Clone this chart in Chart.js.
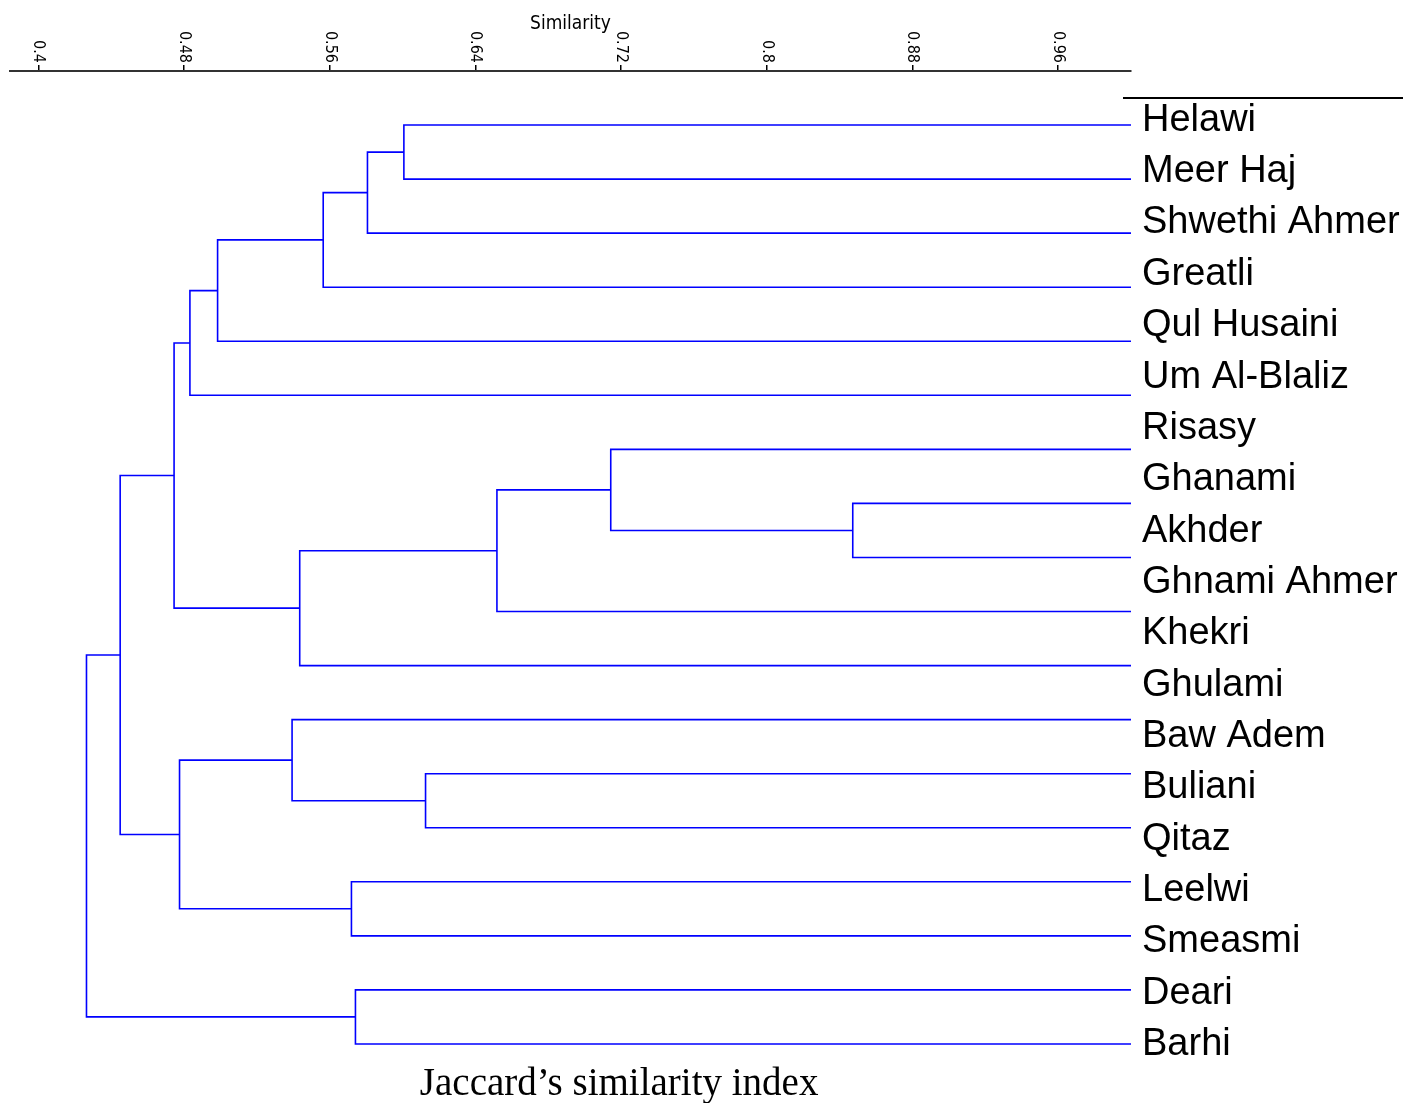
<!DOCTYPE html>
<html>
<head>
<meta charset="utf-8">
<script src="https://cdn.jsdelivr.net/npm/chart.js@4.4.1/dist/chart.umd.min.js"></script>
<style>
  html, body { margin: 0; padding: 0; background: #fff; }
  #wrap { width: 1406px; height: 1103px; position: relative; }
</style>
</head>
<body>
<div id="wrap"><canvas id="chart"></canvas></div>
<script>
// names as printed down the right side
const cultivars = ['Helawi', 'Meer Haj', 'Shwethi Ahmer', 'Greatli', 'Qul Husaini', 'Um Al-Blaliz', 'Risasy',
    'Ghanami', 'Akhder', 'Ghnami Ahmer', 'Khekri', 'Ghulami', 'Baw Adem', 'Buliani', 'Qitaz', 'Leelwi',
    'Smeasmi', 'Deari', 'Barhi']

// similarity axis
const tickValues = [0.4, 0.48, 0.56, 0.64, 0.72, 0.8, 0.88, 0.96]
const tickLabels = ['0.4', '0.48', '0.56', '0.64', '0.72', '0.8', '0.88', '0.96']

// linkage: leaves are 0..17, the cluster made by join k is 18 + k
const leafCount = 18
const joinA = [0, 18, 19, 20, 21, 7, 6, 24, 25, 22, 12, 11, 14, 29, 27, 16, 32]
const joinB = [1, 2, 3, 4, 5, 8, 23, 9, 10, 26, 13, 28, 15, 30, 31, 17, 33]
const joinSim = [0.6007, 0.5807, 0.5564, 0.4984, 0.4832, 0.8472, 0.7143, 0.6518, 0.5435,
    0.4745, 0.6126, 0.5393, 0.5719, 0.4775, 0.4449, 0.5741, 0.4264]

const nodeSim = []
const nodeRow = []
for (let i = 0; i < leafCount; i++) {
    nodeSim.push(1)
    nodeRow.push(i)
}
const links = joinA.map((a, k) => {
    const b = joinB[k]
    const s = joinSim[k]
    nodeSim.push(s)
    nodeRow.push((nodeRow[a] + nodeRow[b]) / 2)
    return [
        { x: nodeSim[a], y: nodeRow[a] },
        { x: s, y: nodeRow[a] },
        { x: s, y: nodeRow[b] },
        { x: nodeSim[b], y: nodeRow[b] }
    ]
})

const narrow = '"DejaVu Sans Condensed", "Liberation Sans Narrow", sans-serif'

const extras = {
    id: 'extras',
    afterDraw(chart) {
        const { ctx, chartArea } = chart
        const x = chart.scales.x
        const y = chart.scales.y
        ctx.save()
        // tick labels read downwards and end at the tick mark
        ctx.font = '16px ' + narrow
        ctx.fillStyle = '#000'
        ctx.textAlign = 'right'
        ctx.textBaseline = 'middle'
        tickValues.forEach((v, i) => {
            ctx.save()
            ctx.translate(x.getPixelForValue(v), chartArea.top - 8)
            ctx.rotate(Math.PI / 2)
            ctx.fillText(tickLabels[i], 0, 0)
            ctx.restore()
        })
        // rule above the first name
        const ry = Math.round(y.getPixelForValue(-0.5))
        ctx.strokeStyle = '#000'
        ctx.lineWidth = 2
        ctx.beginPath()
        ctx.moveTo(chartArea.right - 8, ry)
        ctx.lineTo(chart.width - 3, ry)
        ctx.stroke()
        // caption
        ctx.font = '39px "Liberation Serif", "Times New Roman", serif'
        ctx.textAlign = 'center'
        ctx.textBaseline = 'alphabetic'
        ctx.fillText('Jaccard\u2019s similarity index', x.getPixelForValue(0.72) - 2, chart.height - 8)
        ctx.restore()
    }
}

new Chart(document.getElementById('chart'), {
    type: 'scatter',
    data: {
        datasets: links.map(d => ({
            data: d,
            showLine: true,
            borderColor: '#0000ff',
            borderWidth: 1.6,
            pointRadius: 0,
            fill: false,
            tension: 0,
            xAxisID: 'x',
            yAxisID: 'y'
        }))
    },
    options: {
        responsive: true,
        maintainAspectRatio: false,
        animation: false,
        layout: { padding: { left: 10, right: 0, top: 0, bottom: 5 } },
        plugins: {
            legend: { display: false },
            tooltip: { enabled: false }
        },
        scales: {
            x: {
                type: 'linear',
                position: 'top',
                min: 0.3844,
                max: 1.0,
                afterBuildTicks: s => { s.ticks = tickValues.map(v => ({ value: v })) },
                afterFit: s => { s.height = 71 },
                ticks: { display: false },
                grid: { drawOnChartArea: false, drawTicks: true, tickLength: 6, color: '#000', lineWidth: 1.5 },
                border: { color: '#333', width: 2 },
                title: {
                    display: true,
                    text: 'Similarity',
                    color: '#000',
                    font: { family: narrow, size: 19 },
                    padding: { top: 13, bottom: 0 }
                }
            },
            y: {
                type: 'linear',
                reverse: true,
                min: -1,
                max: 18,
                display: false
            },
            y2: {
                type: 'linear',
                position: 'right',
                reverse: true,
                min: -0.96,
                max: 19.04,
                afterBuildTicks: s => { s.ticks = cultivars.map((n, i) => ({ value: i })) },
                afterFit: s => {
                    s.width = 275
                    s.paddingTop = 0
                    s.paddingBottom = 0
                },
                ticks: {
                    autoSkip: false,
                    padding: 11,
                    color: '#000',
                    font: { family: '"Liberation Sans", Arial, sans-serif', size: 38 },
                    callback: v => cultivars[v]
                },
                grid: { display: false, drawTicks: false },
                border: { display: false }
            }
        }
    },
    plugins: [extras]
})
</script>
</body>
</html>
